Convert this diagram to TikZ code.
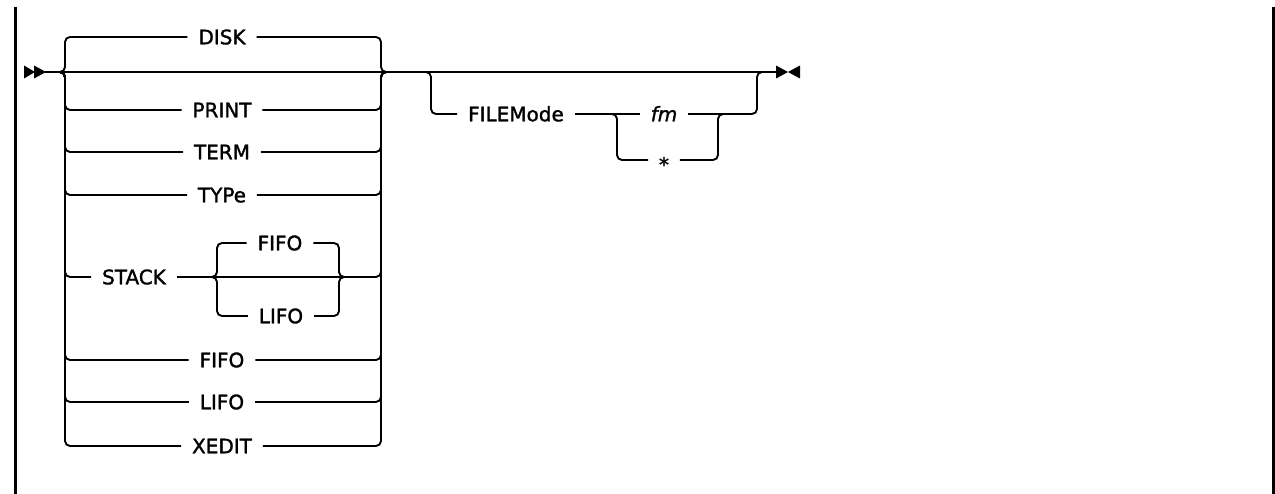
\documentclass[tikz,border=0pt]{standalone}
\usepackage{fontspec}
\setmainfont{DejaVu Sans}[FakeBold=1.5]
\begin{document}
\begin{tikzpicture}[x=1pt,y=-1pt,line width=1.9pt,
  lbl/.style={inner xsep=10pt,inner ysep=0pt,text height=14.6pt,text depth=0pt,font=\fontsize{20}{24}\selectfont},
  rc/.style={rounded corners=5pt},
  bar/.style={line width=3pt}]
\useasboundingbox (0,0) rectangle (1275,494);
% side bars
\draw[bar] (15.5,7) -- (15.5,494);
\draw[bar] (1273.5,7) -- (1273.5,494);
% junctions
\coordinate (s) at (45,72);
\coordinate (jL) at (60,72);
\coordinate (jR) at (386,72);
\coordinate (jF) at (426,72);
\coordinate (jE) at (762,72);
\coordinate (e) at (777,72);
\coordinate (jS1) at (212,277);
\coordinate (jS2) at (344,277);
\coordinate (jM1) at (612,114);
\coordinate (jM2) at (723,114);
% start and end marks
\fill (24,65.5) -- (35,72) -- (24,78.5) -- cycle;
\fill (34,65.5) -- (46,72) -- (34,78.5) -- cycle;
\fill (776,65.5) -- (788,72) -- (776,78.5) -- cycle;
\fill (800,65.5) -- (788,72) -- (800,78.5) -- cycle;
% labels
\node[lbl] (disk) at (222,37) {DISK};
\node[lbl] (print) at (222,110) {PRINT};
\node[lbl] (term) at (222,152) {TERM};
\node[lbl] (type) at (222,195) {TYPe};
\node[lbl] (stack) at (134,277) {STACK};
\node[lbl] (fifoA) at (280,243) {FIFO};
\node[lbl] (lifoA) at (281,316) {LIFO};
\node[lbl] (fifo) at (222,360) {FIFO};
\node[lbl] (lifo) at (222,402) {LIFO};
\node[lbl] (xedit) at (222,446) {XEDIT};
\node[lbl] (filemode) at (516,114) {FILEMode};
\node[lbl] (fm) at (664,114) {\itshape fm};
\node[lbl] (star) at (664,160) {\raisebox{-4.5pt}{*}};
% main line
\draw (s) -- (e);
% first group
\foreach \n in {disk,print,term,type,fifo,lifo,xedit}{
  \draw[rc] (jL) -- ++(5,0) |- (\n.west);
  \draw[rc] (\n.east) -| ([xshift=-5pt]jR) -- (jR);
}
\draw[rc] (jL) -- ++(5,0) |- (stack.west);
\draw (stack.east) -- (jS1) -- (jS2);
\draw[rc] (jS2) -| ([xshift=-5pt]jR) -- (jR);
\foreach \n in {fifoA,lifoA}{
  \draw[rc] (jS1) -- ++(5,0) |- (\n.west);
  \draw[rc] (\n.east) -| ([xshift=-5pt]jS2) -- (jS2);
}
% FILEMode group
\draw[rc] (jF) -- ++(5,0) |- (filemode.west);
\draw (filemode.east) -- (jM1) -- (fm.west);
\draw (fm.east) -- (jM2);
\draw[rc] (jM1) -- ++(5,0) |- (star.west);
\draw[rc] (star.east) -| ([xshift=-5pt]jM2) -- (jM2);
\draw[rc] (jM2) -| ([xshift=-5pt]jE) -- (jE);
\end{tikzpicture}
\end{document}
